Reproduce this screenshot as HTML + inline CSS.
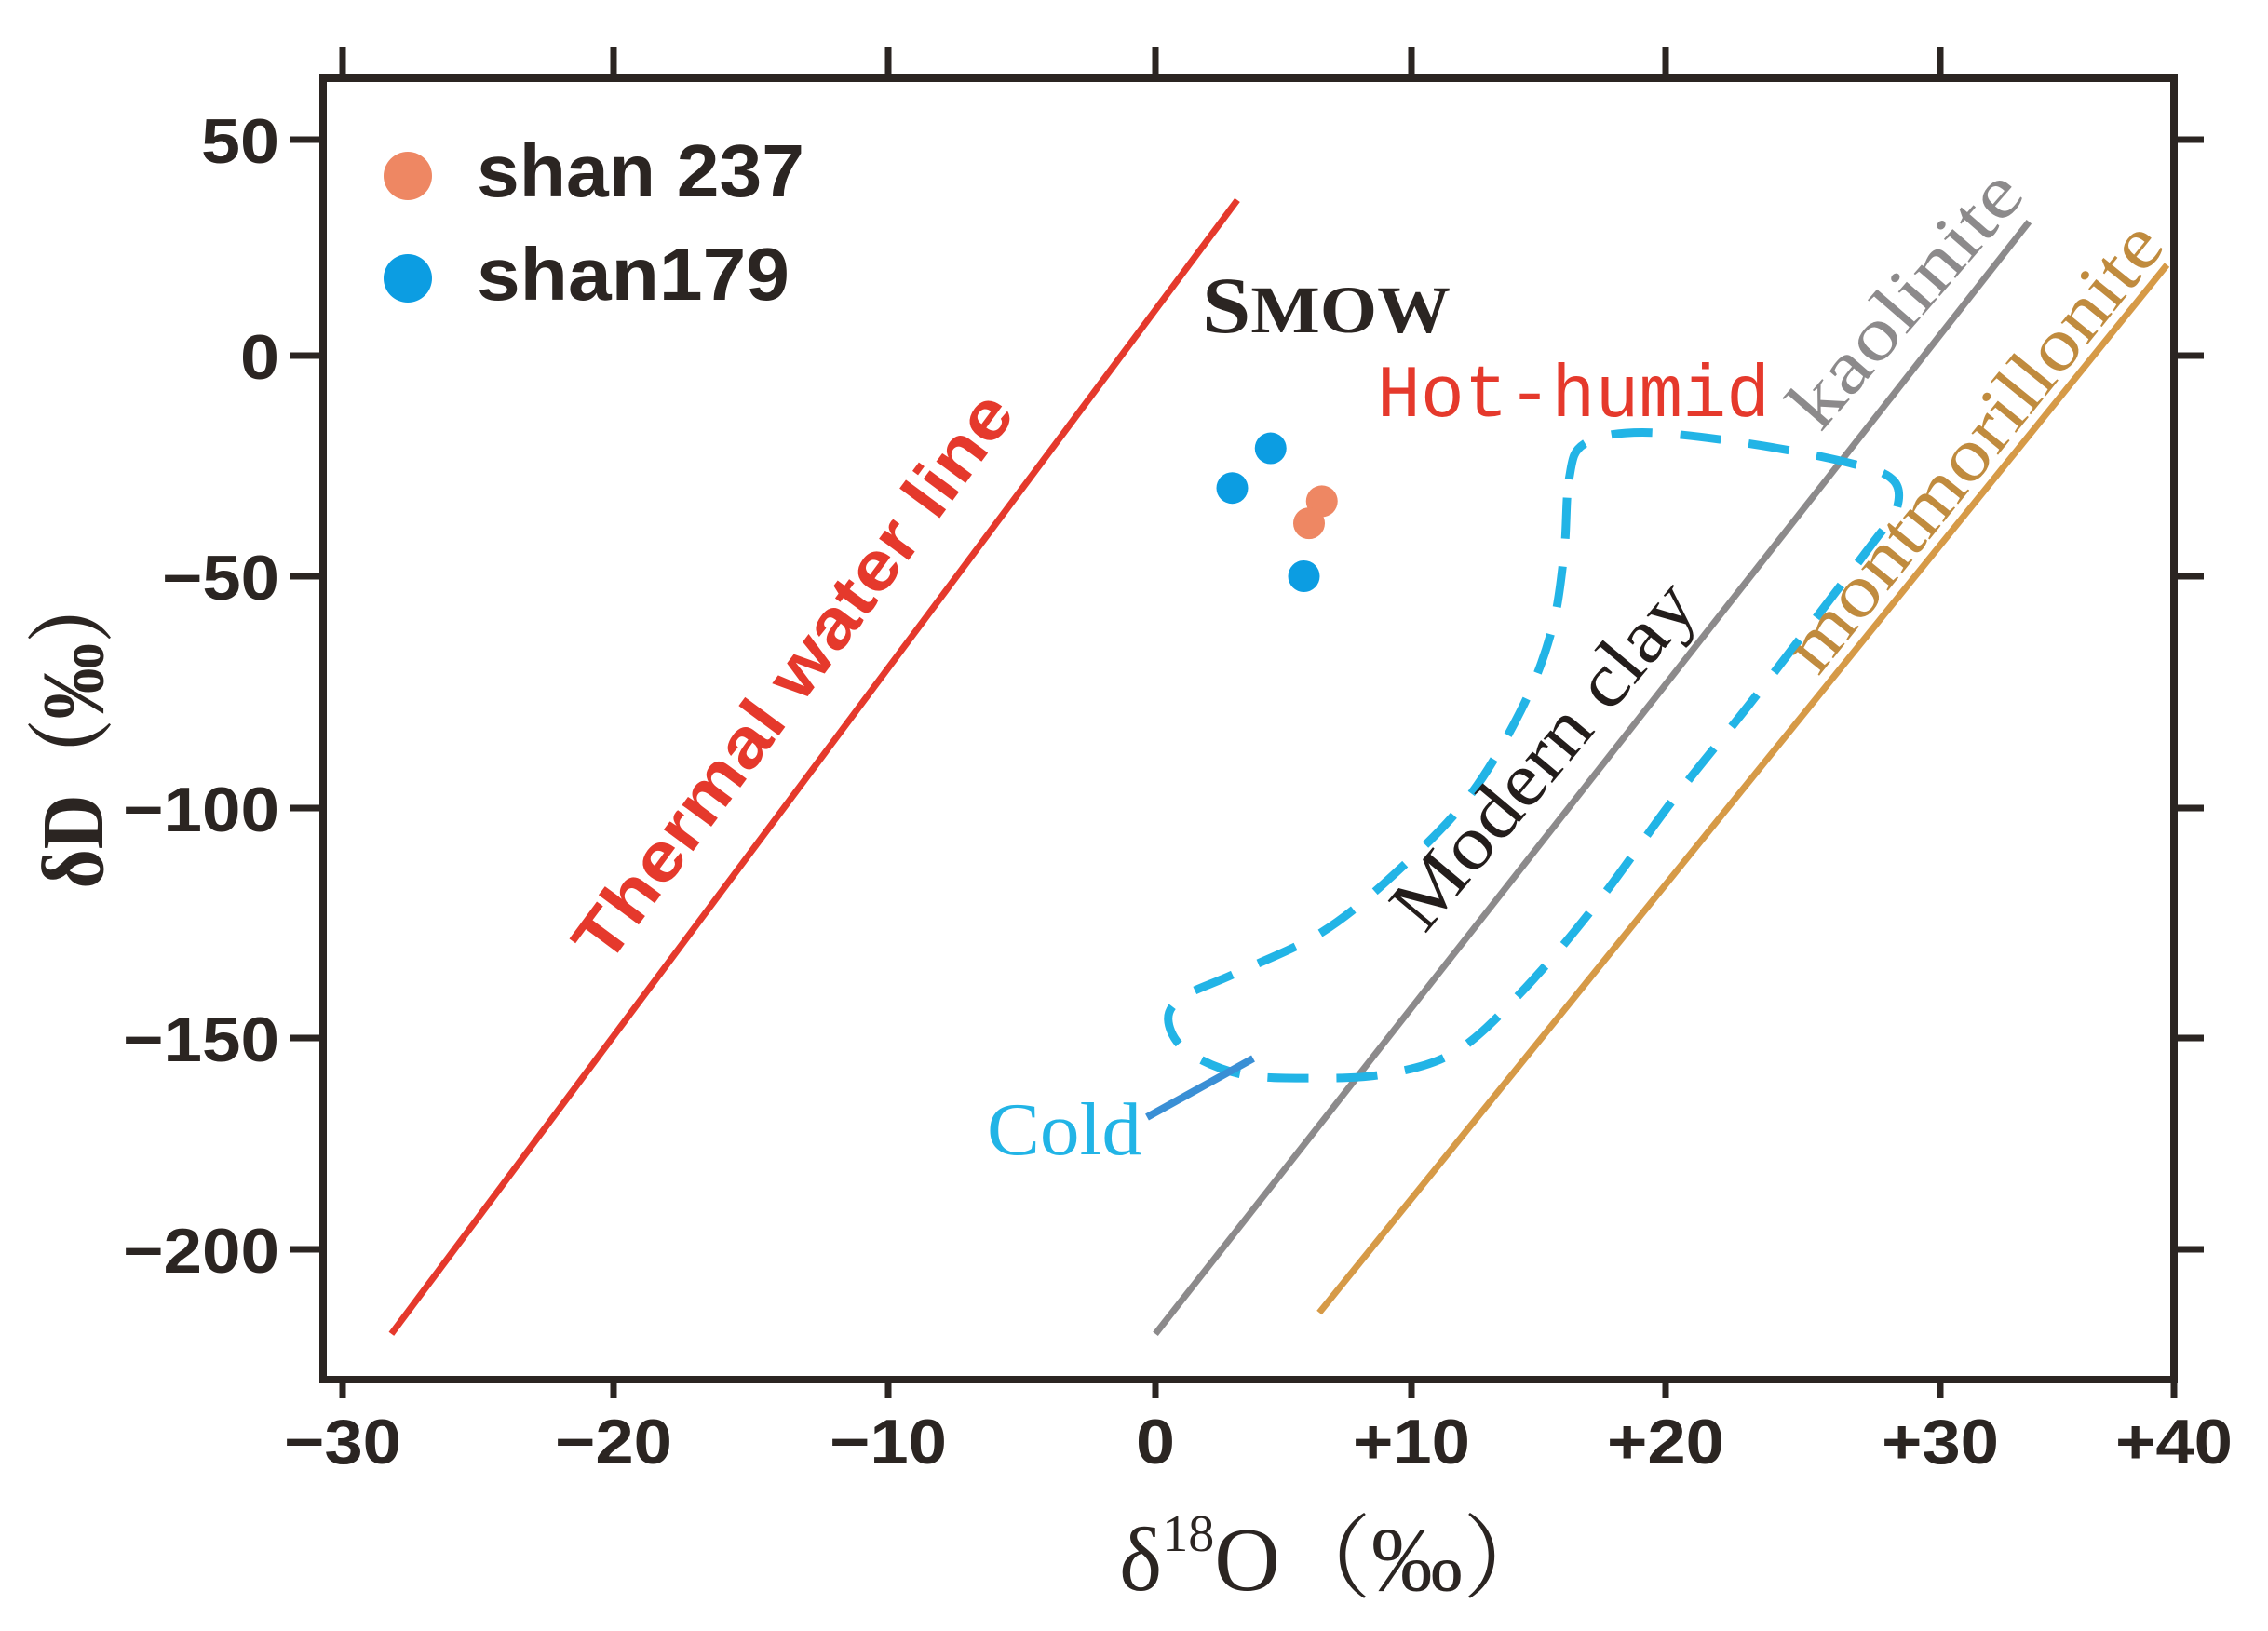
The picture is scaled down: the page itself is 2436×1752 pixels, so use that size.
<!DOCTYPE html>
<html><head><meta charset="utf-8">
<style>
html,body{margin:0;padding:0;background:#fff;}
svg{display:block;}
.tick{font-family:"Liberation Sans",sans-serif;font-weight:bold;font-size:68px;fill:#2b2522;}
</style></head>
<body>
<svg id="chart" width="2436" height="1752" viewBox="0 0 2436 1752" xmlns="http://www.w3.org/2000/svg">
<g id="marks"></g>
<g id="axes"></g>
</svg>
<script>
// ---- data ----
const xTickValues = [-30,-20,-10,0,10,20,30,40];
const xTickLabels = ["\u221230","\u221220","\u221210","0","+10","+20","+30","+40"];
const yTickValues = [50,0,-50,-100,-150,-200];
const yTickLabels = ["50","0","\u221250","\u2212100","\u2212150","\u2212200"];
const shan237X = [6.5, 6.0];
const shan237Y = [-33, -38];
const shan179X = [3.0, 4.5, 5.8];
const shan179Y = [-30, -21, -50];
const thermalLineX = [-28.2, 3.2];
const thermalLineY = [-220, 36];
const kaoliniteX = [0.0, 33.8];
const kaoliniteY = [-220, 31];
const montmorilloniteX = [6.4, 39.7];
const montmorilloniteY = [-215, 21];
const fieldX = [16.2,16.8,19.1,23.1,26.8,28.3,28.4,27.6,25.6,23.0,20.3,17.4,14.5,11.8,9.0,6.0,3.3,1.2,0.5,1.1,3.1,6.5,9.4,12.2,14.3,15.5,16.0];
const fieldY = [-28,-20,-17.4,-20,-24.5,-28.3,-35,-42,-58,-78,-98,-120,-139,-153,-158.5,-159.5,-158.5,-153,-146,-141,-136,-127,-114,-98,-79,-62,-45];

// ---- layout (pixel positions of the hand-drawn axis ticks) ----
const xTickPx = [368,659,954,1241,1516,1789,2084,2335];
const yTickPx = [150,382,619,868,1115,1342];
const frame = {l:347,r:2335,t:84,b:1482};

function interp(v, vals, px){
  const n = vals.length;
  let i = 0;
  const asc = vals[1] > vals[0];
  if (asc){ while(i < n-2 && v > vals[i+1]) i++; }
  else { while(i < n-2 && v < vals[i+1]) i++; }
  const t = (v - vals[i])/(vals[i+1]-vals[i]);
  return px[i] + t*(px[i+1]-px[i]);
}
const X = v => interp(v, xTickValues, xTickPx);
const Y = v => interp(v, yTickValues, yTickPx);

const NS = "http://www.w3.org/2000/svg";
function mk(tag, attrs, parent){
  const e = document.createElementNS(NS, tag);
  for (const k in attrs) e.setAttribute(k, attrs[k]);
  parent.appendChild(e);
  return e;
}
const marks = document.getElementById('marks');
const axes = document.getElementById('axes');

function drawLine(xs, ys, color, w, name){
  const l = mk('line', {x1:X(xs[0]), y1:Y(ys[0]), x2:X(xs[1]), y2:Y(ys[1]), stroke:color, 'stroke-width':w}, marks);
  
  
}
drawLine(thermalLineX, thermalLineY, '#e5392c', 7, 'thermal-water-line');
drawLine(kaoliniteX, kaoliniteY, '#8c8a8b', 7, 'kaolinite-line');
drawLine(montmorilloniteX, montmorilloniteY, '#d69a47', 7, 'montmorillonite-line');

(function(){
  const pts = fieldX.map((x,i)=>[X(x), Y(fieldY[i])]);
  const n = pts.length;
  let d = `M${pts[0][0]},${pts[0][1]}`;
  for (let i=0;i<n;i++){
    const p0=pts[(i-1+n)%n], p1=pts[i], p2=pts[(i+1)%n], p3=pts[(i+2)%n];
    const c1=[p1[0]+(p2[0]-p0[0])/6, p1[1]+(p2[1]-p0[1])/6];
    const c2=[p2[0]-(p3[0]-p1[0])/6, p2[1]-(p3[1]-p1[1])/6];
    d += ` C${c1[0]},${c1[1]} ${c2[0]},${c2[1]} ${p2[0]},${p2[1]}`;
  }
  const p = mk('path', {d:d+'Z', fill:'none', stroke:'#22b4e6', 'stroke-width':9, 'stroke-dasharray':'44 30'}, marks);
  
  
})();

const cp = mk('line', {x1:1232, y1:1200, x2:1346, y2:1137, stroke:'#3a8fd5', 'stroke-width':8}, marks);



shan179X.forEach((x,i)=>{
  const c = mk('circle', {cx:X(x), cy:Y(shan179Y[i]), r:17, fill:'#0c9de2'}, marks);
  
  
});
shan237X.forEach((x,i)=>{
  const c = mk('circle', {cx:X(x), cy:Y(shan237Y[i]), r:17, fill:'#ee8763'}, marks);
  
  
});

const fr = mk('rect', {x:frame.l, y:frame.t, width:frame.r-frame.l, height:frame.b-frame.t, fill:'none', stroke:'#2b2522', 'stroke-width':8}, axes);



xTickValues.forEach((v,i)=>{
  const x = X(v);
  const t1 = mk('line', {x1:x, y1:frame.b, x2:x, y2:frame.b+20, stroke:'#2b2522', 'stroke-width':7}, axes);
  
  
  if (i < xTickValues.length-1){
    const t2 = mk('line', {x1:x, y1:frame.t, x2:x, y2:frame.t-33, stroke:'#2b2522', 'stroke-width':7}, axes);
    
    
  }
  const tx = mk('text', {x:x, y:1572, 'text-anchor':'middle', class:'tick', textLength:42*xTickLabels[i].length, lengthAdjust:'spacingAndGlyphs'}, axes);
  tx.textContent = xTickLabels[i];
  
  
});
yTickValues.forEach((v,i)=>{
  const y = Y(v);
  const t1 = mk('line', {x1:frame.l-36, y1:y, x2:frame.l, y2:y, stroke:'#2b2522', 'stroke-width':7}, axes);
  
  
  const t2 = mk('line', {x1:frame.r, y1:y, x2:frame.r+32, y2:y, stroke:'#2b2522', 'stroke-width':7}, axes);
  
  
  const w = 42*yTickLabels[i].length;
  const tx = mk('text', {x:300-w, y:y+25, 'text-anchor':'start', class:'tick', textLength:w, lengthAdjust:'spacingAndGlyphs'}, axes);
  tx.textContent = yTickLabels[i];
  
  
});
</script>
<svg style="position:absolute;left:0;top:0" width="2436" height="1752" viewBox="0 0 2436 1752" xmlns="http://www.w3.org/2000/svg">
  <g>
    <circle cx="438" cy="189" r="26" fill="#ee8763"/>
    <text x="512" y="211" font-family="Liberation Sans, sans-serif" font-weight="bold" font-size="80" fill="#2b2522" textLength="352" lengthAdjust="spacingAndGlyphs">shan 237</text>
    <circle cx="438" cy="299" r="26" fill="#0c9de2"/>
    <text x="512" y="322" font-family="Liberation Sans, sans-serif" font-weight="bold" font-size="80" fill="#2b2522" textLength="336" lengthAdjust="spacingAndGlyphs">shan179</text>
  </g>
  <text transform="translate(872,742) rotate(-53.5)" text-anchor="middle" font-family="Liberation Sans, sans-serif" font-weight="bold" font-size="74" fill="#e5392c" textLength="740" lengthAdjust="spacingAndGlyphs">Thermal water line</text>
  <text x="1291" y="357" font-family="Liberation Serif, serif" font-weight="bold" fill="#2b2522" textLength="267" lengthAdjust="spacingAndGlyphs"><tspan font-size="86">S</tspan><tspan font-size="72">MOW</tspan></text>
  <text x="1479" y="447" font-family="Liberation Mono, monospace" font-size="80" fill="#e5392c" textLength="422" lengthAdjust="spacingAndGlyphs">Hot-humid</text>
  <text transform="translate(2066,338) rotate(-49)" text-anchor="middle" font-family="Liberation Serif, serif" font-size="80" fill="#8c8a8b" textLength="338" lengthAdjust="spacingAndGlyphs">kaolinite</text>
  <text transform="translate(2140,496) rotate(-51)" text-anchor="middle" font-family="Liberation Serif, serif" font-size="80" fill="#c08b3e" textLength="595" lengthAdjust="spacingAndGlyphs">montmorillonite</text>
  <text transform="translate(1678,828) rotate(-50)" text-anchor="middle" font-family="Liberation Serif, serif" font-size="82" fill="#231d1b" textLength="460" lengthAdjust="spacingAndGlyphs">Modern clay</text>
  <text x="1060" y="1240" font-family="Liberation Serif, serif" font-size="80" fill="#22b4e6" textLength="166" lengthAdjust="spacingAndGlyphs">Cold</text>
  <text x="1202" y="1708" font-family="Liberation Serif, 'Noto Serif CJK SC', serif" font-size="98" fill="#2b2522">δ<tspan font-size="56" dy="-42">18</tspan><tspan dy="42">O（‰）</tspan></text>
  <text transform="translate(110,782) rotate(-90)" text-anchor="middle" font-family="Liberation Serif, 'Noto Serif CJK SC', serif" font-weight="bold" font-size="94" fill="#2b2522" textLength="345" lengthAdjust="spacingAndGlyphs">δD（‰）</text>
</svg>
</body></html>
